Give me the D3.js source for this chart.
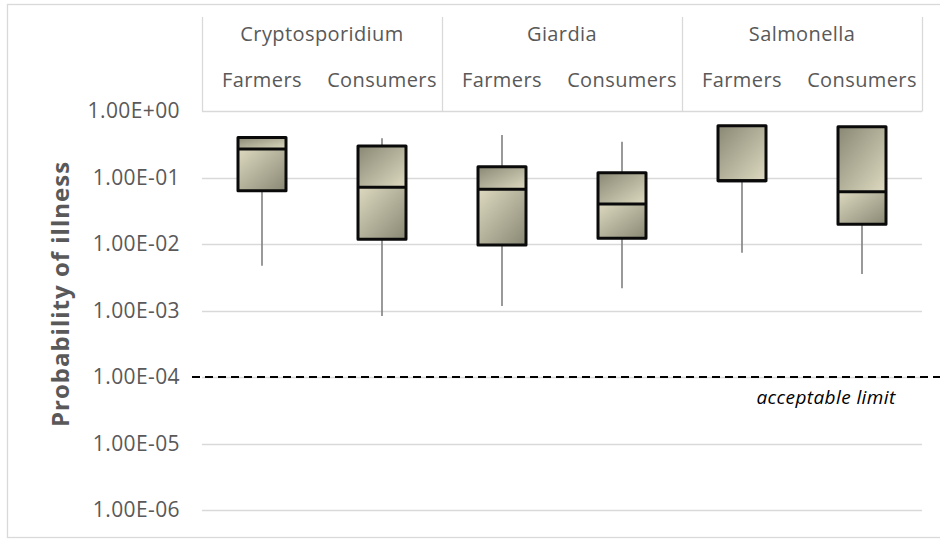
<!DOCTYPE html>
<html>
<head>
<meta charset="utf-8">
<script src="https://cdn.jsdelivr.net/npm/d3@7/dist/d3.min.js"></script>
<style>
  html, body { margin: 0; padding: 0; background: #ffffff; }
  svg { display: block; }
</style>
</head>
<body>
<svg id="chart" width="940" height="539"></svg>
<script>
// Pathogen groups and population within each group
const pathogens = ["Cryptosporidium", "Giardia", "Salmonella"];
const populations = ["Farmers", "Consumers"];

// Box statistics, one entry per (pathogen, population) in order
const whiskerMin = [0.0047, 0.00083, 0.00117, 0.00216, 0.0074, 0.00354];
const quartile1  = [0.0633, 0.0118, 0.0097, 0.0122, 0.0895, 0.0198];
const medians    = [0.268, 0.0713, 0.0664, 0.040, 0.0895, 0.0612];
const quartile3  = [0.40, 0.298, 0.1455, 0.118, 0.60, 0.58];
const whiskerMax = [0.40, 0.39, 0.435, 0.346, 0.60, 0.58];

// Axis ticks and the reference threshold
const yTicks = [1, 1e-1, 1e-2, 1e-3, 1e-4, 1e-5, 1e-6];
const acceptableLimit = 1e-4;
const yTitle = "Probability of illness";
const limitLabel = "acceptable limit";

const svg = d3.select("#chart");
const W = 940, H = 539;
const plot = { left: 202, right: 922, top: 111, bottom: 510 };
const headerTop = 17;
const textColor = "#595959";
const gridColor = "#d9d9d9";
const font = "'Open Sans', sans-serif";

// Build the rows from the arrays
const rows = [];
pathogens.forEach((p, i) => {
  populations.forEach((g, j) => {
    const k = i * populations.length + j;
    rows.push({ key: p + "|" + g, pathogen: p, population: g,
      min: whiskerMin[k], q1: quartile1[k], med: medians[k],
      q3: quartile3[k], max: whiskerMax[k] });
  });
});

const x = d3.scaleBand().domain(rows.map(d => d.key))
  .range([plot.left, plot.right]).padding(0);
const xGroup = d3.scaleBand().domain(pathogens)
  .range([plot.left, plot.right]).padding(0);
const y = d3.scaleLog().domain([1e-6, 1]).range([plot.bottom, plot.top]);

// Outer chart frame
svg.append("rect")
  .attr("x", 7.5).attr("y", 4.5).attr("width", W + 10).attr("height", 533)
  .attr("fill", "none").attr("stroke", gridColor).attr("stroke-width", 1.3);

// Gradients for the upper and lower box halves
const defs = svg.append("defs");
const dark = "#898874", light = "#dedac1";
function grad(id, c0, c1) {
  const g = defs.append("linearGradient").attr("id", id)
    .attr("x1", 0).attr("y1", 0).attr("x2", 1).attr("y2", 1);
  g.append("stop").attr("offset", "0%").attr("stop-color", c0);
  g.append("stop").attr("offset", "100%").attr("stop-color", c1);
}
grad("upperFill", dark, light);
grad("lowerFill", light, dark);

// Gridlines
svg.append("g").selectAll("line").data(yTicks).join("line")
  .attr("x1", plot.left).attr("x2", plot.right)
  .attr("y1", d => Math.round(y(d)) + 0.5).attr("y2", d => Math.round(y(d)) + 0.5)
  .attr("stroke", gridColor).attr("stroke-width", 1.3);

// Header table: group separators
svg.append("g").selectAll("line")
  .data(pathogens.map(p => xGroup(p)).concat([plot.right])).join("line")
  .attr("x1", d => Math.round(d) + 0.5).attr("x2", d => Math.round(d) + 0.5)
  .attr("y1", headerTop).attr("y2", Math.round(y(1)) + 0.5)
  .attr("stroke", gridColor).attr("stroke-width", 1.3);

svg.append("g").selectAll("text").data(pathogens).join("text")
  .attr("x", d => xGroup(d) + xGroup.bandwidth() / 2)
  .attr("y", 33)
  .attr("text-anchor", "middle").attr("dominant-baseline", "central")
  .attr("font-family", font).attr("font-size", 20).attr("letter-spacing", 0.4)
  .attr("fill", textColor)
  .text(d => d);

svg.append("g").selectAll("text").data(rows).join("text")
  .attr("x", d => x(d.key) + x.bandwidth() / 2)
  .attr("y", 79)
  .attr("text-anchor", "middle").attr("dominant-baseline", "central")
  .attr("font-family", font).attr("font-size", 20).attr("letter-spacing", 0.4)
  .attr("fill", textColor)
  .text(d => d.population);

// Y axis labels
function sci(v) {
  const [m, e] = v.toExponential(2).toUpperCase().split("E");
  const n = parseInt(e, 10);
  return m + "E" + (n < 0 ? "-" : "+") + String(Math.abs(n)).padStart(2, "0");
}
const yAxis = svg.append("g")
  .attr("transform", `translate(${plot.left},0)`)
  .call(d3.axisLeft(y).tickValues(yTicks).tickFormat(sci).tickSize(0).tickPadding(22));
yAxis.select(".domain").remove();
yAxis.selectAll("text")
  .attr("font-family", font).attr("font-size", 21).attr("letter-spacing", 0.4)
  .attr("fill", textColor);

// Y axis title
svg.append("text")
  .attr("transform", `translate(69, ${(162 + 426) / 2}) rotate(-90)`)
  .attr("text-anchor", "middle")
  .attr("font-family", font).attr("font-weight", "bold")
  .attr("font-size", 24).attr("letter-spacing", 1)
  .attr("fill", textColor)
  .text(yTitle);

// Acceptable-limit threshold
svg.append("line")
  .attr("x1", 192).attr("x2", W)
  .attr("y1", y(acceptableLimit)).attr("y2", y(acceptableLimit))
  .attr("stroke", "#000").attr("stroke-width", 2).attr("stroke-dasharray", "8,5");
svg.append("text")
  .attr("x", 826).attr("y", y(acceptableLimit) + 27)
  .attr("text-anchor", "middle")
  .attr("font-family", font).attr("font-style", "italic")
  .attr("font-size", 19).attr("letter-spacing", 0.4).attr("fill", "#000")
  .text(limitLabel);

// Boxes
const boxW = x.bandwidth() * 0.4;
const boxes = svg.append("g").selectAll("g").data(rows).join("g")
  .attr("transform", d => `translate(${x(d.key) + x.bandwidth() / 2},0)`);

boxes.append("line")
  .attr("x1", 0).attr("x2", 0)
  .attr("y1", d => y(d.max)).attr("y2", d => y(d.min))
  .attr("stroke", "#808080").attr("stroke-width", 1.6);

boxes.append("rect")
  .attr("x", -boxW / 2).attr("width", boxW)
  .attr("y", d => y(d.q3)).attr("height", d => y(d.med) - y(d.q3))
  .attr("fill", "url(#upperFill)");
boxes.append("rect")
  .attr("x", -boxW / 2).attr("width", boxW)
  .attr("y", d => y(d.med)).attr("height", d => y(d.q1) - y(d.med))
  .attr("fill", "url(#lowerFill)");
boxes.append("rect")
  .attr("x", -boxW / 2).attr("width", boxW)
  .attr("y", d => y(d.q3)).attr("height", d => y(d.q1) - y(d.q3))
  .attr("fill", "none").attr("stroke", "#0a0a0a").attr("stroke-width", 3)
  .attr("stroke-linejoin", "round");
boxes.append("line")
  .attr("x1", -boxW / 2).attr("x2", boxW / 2)
  .attr("y1", d => y(d.med)).attr("y2", d => y(d.med))
  .attr("stroke", "#0a0a0a").attr("stroke-width", 3);
</script>
</body>
</html>
